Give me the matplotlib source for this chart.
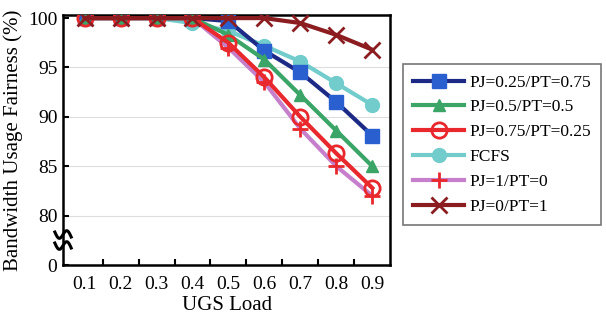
import numpy as np
import matplotlib
matplotlib.use("Agg")
import matplotlib.pyplot as plt

plt.rcParams['font.family'] = ['Liberation Serif', 'DejaVu Serif']

loads = [0.1, 0.2, 0.3, 0.4, 0.5, 0.6, 0.7, 0.8, 0.9]
pj025 = [100, 100, 100, 100, 99.7, 96.7, 94.5, 91.5, 88.1]
pj05 = [100, 100, 100, 100, 98.3, 95.8, 92.2, 88.6, 85.0]
pj075 = [100, 100, 100, 100, 97.5, 94.0, 90.0, 86.3, 82.8]
fcfs = [100, 100, 100, 99.5, 98.7, 97.2, 95.6, 93.4, 91.2]
pj1 = [100, 100, 100, 100, 97.0, 93.5, 88.8, 85.0, 82.0]
pj0 = [100, 100, 100, 100, 100, 100, 99.5, 98.3, 96.8]

ytick_vals = [75, 80, 85, 90, 95, 100]
ytick_labels = ['0', '80', '85', '90', '95', '100']
xtick_labels = ['0.1', '0.2', '0.3', '0.4', '0.5', '0.6', '0.7', '0.8', '0.9']

fig = plt.figure(figsize=(6.06, 3.22), dpi=100)
ax = fig.add_axes([0.104, 0.177, 0.540, 0.776])

lw = 3.0
ax.plot(loads, pj025, color='#1c2a86', lw=lw, marker='s', ms=10,
        mfc='#2a5fd0', mec='#2a5fd0', label='PJ=0.25/PT=0.75', zorder=3)
ax.plot(loads, pj05, color='#3aa566', lw=lw, marker='^', ms=9,
        mfc='#3aa566', mec='#3aa566', label='PJ=0.5/PT=0.5', zorder=3)
ax.plot(loads, pj075, color='#e8282c', lw=lw, marker='o', ms=11,
        mfc='none', mec='#e8282c', mew=2, label='PJ=0.75/PT=0.25', zorder=4)
ax.plot(loads, fcfs, color='#72cccc', lw=lw, marker='o', ms=10,
        mfc='#72cccc', mec='#72cccc', label='FCFS', zorder=2)
ax.plot(loads, pj1, color='#c67fcb', lw=lw, marker='+', ms=11,
        mec='#e8282c', mew=2, label='PJ=1/PT=0', zorder=2)
ax.plot(loads, pj0, color='#8b1c20', lw=lw, marker='x', ms=11,
        mec='#8b1c20', mew=2, label='PJ=0/PT=1', zorder=5)

ax.set_xlim(0.04, 0.95)
ax.set_ylim(75, 100.3)
ax.set_yticks(ytick_vals)
ax.set_yticklabels(ytick_labels, fontsize=14)
ax.set_xticks(loads)
ax.set_xticklabels(xtick_labels, fontsize=14)
ax.tick_params(axis='x', length=0, pad=8)
ax.set_xticks(np.arange(0.15, 0.9, 0.1), minor=True)
ax.tick_params(axis='x', which='minor', direction='in', length=4, width=1.5)
ax.tick_params(axis='y', direction='in', length=4, width=1.5, pad=4)
for v in [80, 85, 90, 95]:
    ax.axhline(v, color='#dddddd', lw=0.8, zorder=0)
for s in ax.spines.values():
    s.set_linewidth(1.8)

ax.set_xlabel('UGS Load', fontsize=15, labelpad=2)
ax.set_ylabel('Bandwidth Usage Fairness (%)', fontsize=15, labelpad=4)

# axis break mark
t = np.linspace(-1, 1, 60)
for off in (-0.022, 0.022):
    xs = 0.0 + 0.025 * t
    ys = 0.1 + off + 0.02 * np.sin(np.pi * t) - 0.01 * t
    ax.plot(xs, ys, color='black', lw=2.2, transform=ax.transAxes, clip_on=False, zorder=6)

leg = fig.legend(loc='upper left', bbox_to_anchor=(0.665, 0.801), fontsize=12.5,
                 frameon=True, fancybox=False, edgecolor='#555555',
                 handlelength=2.9, handletextpad=0.3, labelspacing=0.5,
                 borderpad=0.6, borderaxespad=0)
leg.get_frame().set_linewidth(1.2)

fig.savefig('out.png', dpi=100)
